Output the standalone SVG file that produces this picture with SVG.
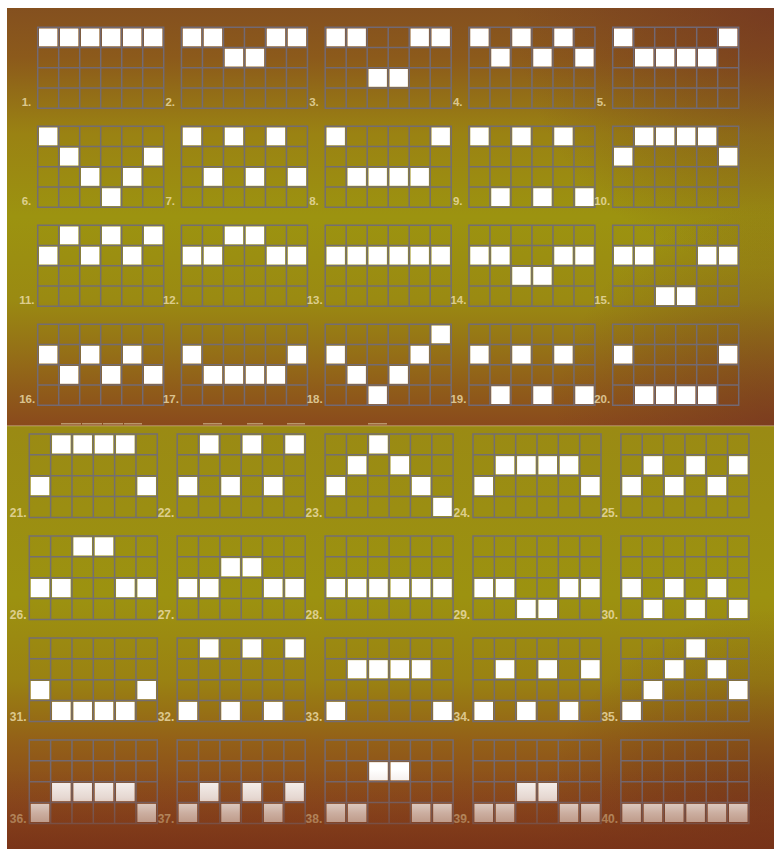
<svg xmlns="http://www.w3.org/2000/svg" xmlns:xlink="http://www.w3.org/1999/xlink" width="774" height="849" viewBox="0 0 774 849">
<defs>
<linearGradient id="bgT" x1="0" y1="8" x2="0" y2="425" gradientUnits="userSpaceOnUse">
<stop offset="0" stop-color="#84501f"/>
<stop offset="0.12" stop-color="#8c5a1b"/>
<stop offset="0.3" stop-color="#9a8213"/>
<stop offset="0.5" stop-color="#9c9310"/>
<stop offset="0.7" stop-color="#9a8a12"/>
<stop offset="0.86" stop-color="#936818"/>
<stop offset="1" stop-color="#8a4a1c"/>
</linearGradient>
<linearGradient id="bgB" x1="0" y1="426" x2="0" y2="849" gradientUnits="userSpaceOnUse">
<stop offset="0" stop-color="#9a8a14"/>
<stop offset="0.4" stop-color="#9c9210"/>
<stop offset="0.6" stop-color="#9a8212"/>
<stop offset="0.75" stop-color="#935f18"/>
<stop offset="0.9" stop-color="#88461c"/>
<stop offset="1" stop-color="#7a3418"/>
</linearGradient>
<radialGradient id="cornerTR" cx="774" cy="8" r="260" gradientUnits="userSpaceOnUse">
<stop offset="0" stop-color="#6e2e22" stop-opacity="0.6"/>
<stop offset="1" stop-color="#6e2e22" stop-opacity="0"/>
</radialGradient>
<radialGradient id="cornerBR" cx="774" cy="425" r="220" gradientUnits="userSpaceOnUse">
<stop offset="0" stop-color="#6e2e22" stop-opacity="0.5"/>
<stop offset="1" stop-color="#6e2e22" stop-opacity="0"/>
</radialGradient>
<radialGradient id="cornerBB" cx="774" cy="849" r="240" gradientUnits="userSpaceOnUse">
<stop offset="0" stop-color="#5e2218" stop-opacity="0.5"/>
<stop offset="1" stop-color="#5e2218" stop-opacity="0"/>
</radialGradient>
<linearGradient id="fade" x1="0" y1="770" x2="0" y2="849" gradientUnits="userSpaceOnUse">
<stop offset="0" stop-color="#823c1a" stop-opacity="0"/>
<stop offset="0.35" stop-color="#823c1a" stop-opacity="0.2"/>
<stop offset="0.55" stop-color="#823c1a" stop-opacity="0.42"/>
<stop offset="0.8" stop-color="#7e3819" stop-opacity="0.62"/>
<stop offset="1" stop-color="#7a3418" stop-opacity="0.8"/>
</linearGradient>
<path id="gT" d="M0 0H126V81H0Z M21 0V81 M42 0V81 M63 0V81 M84 0V81 M105 0V81 M0 20.25H126 M0 40.5H126 M0 60.75H126"/>
<path id="gB" d="M0 0H128V83.4H0Z M21.33 0V83.4 M42.67 0V83.4 M64 0V83.4 M85.33 0V83.4 M106.67 0V83.4 M0 20.85H128 M0 41.7H128 M0 62.55H128"/>
</defs>
<style>
.grid{fill:none;stroke:#706c7c;stroke-width:1.5;stroke-opacity:0.9}
.t rect{fill:#ffffff;width:18.4px;height:17.8px}
.b rect{fill:#ffffff;width:18.6px;height:18.2px}
.lbl{font-family:"Liberation Sans",Arial,sans-serif;font-weight:bold;fill:#efe0b0;fill-opacity:0.8}
.t .lbl{font-size:11.5px}
.b .lbl{font-size:12px}
</style>
<rect x="0" y="0" width="774" height="849" fill="#ffffff"/>
<rect x="7" y="8" width="767" height="418" fill="url(#bgT)"/>
<rect x="7" y="8" width="767" height="418" fill="url(#cornerTR)"/>
<rect x="7" y="8" width="767" height="418" fill="url(#cornerBR)"/>
<rect x="7" y="426" width="767" height="423" fill="url(#bgB)"/>
<rect x="7" y="426" width="767" height="423" fill="url(#cornerBB)"/>
<g id="seam" fill="#d8c8a0" fill-opacity="0.6">
<rect x="7" y="425.3" width="767" height="1"/>
<rect x="61" y="423" width="20" height="1.5"/><rect x="82" y="423" width="20" height="1.5"/><rect x="103" y="423" width="20" height="1.5"/><rect x="124" y="423" width="18" height="1.5"/>
<rect x="203" y="423" width="19" height="1.5"/><rect x="247" y="423" width="16" height="1.5"/><rect x="287" y="423" width="18" height="1.5"/><rect x="368" y="423" width="19" height="1.5"/>
</g>
<g id="paylines-top" class="t">
<g id="line-1" transform="translate(37.7,27.3)"><use href="#gT" class="grid"/><rect x="1.3" y="1.2"/><rect x="22.3" y="1.2"/><rect x="43.3" y="1.2"/><rect x="64.3" y="1.2"/><rect x="85.3" y="1.2"/><rect x="106.3" y="1.2"/><text class="lbl" x="-16" y="79">1.</text></g>
<g id="line-2" transform="translate(181.45,27.3)"><use href="#gT" class="grid"/><rect x="1.3" y="1.2"/><rect x="22.3" y="1.2"/><rect x="43.3" y="21.45"/><rect x="64.3" y="21.45"/><rect x="85.3" y="1.2"/><rect x="106.3" y="1.2"/><text class="lbl" x="-16" y="79">2.</text></g>
<g id="line-3" transform="translate(325.2,27.3)"><use href="#gT" class="grid"/><rect x="1.3" y="1.2"/><rect x="22.3" y="1.2"/><rect x="43.3" y="41.7"/><rect x="64.3" y="41.7"/><rect x="85.3" y="1.2"/><rect x="106.3" y="1.2"/><text class="lbl" x="-16" y="79">3.</text></g>
<g id="line-4" transform="translate(468.95,27.3)"><use href="#gT" class="grid"/><rect x="1.3" y="1.2"/><rect x="22.3" y="21.45"/><rect x="43.3" y="1.2"/><rect x="64.3" y="21.45"/><rect x="85.3" y="1.2"/><rect x="106.3" y="21.45"/><text class="lbl" x="-16" y="79">4.</text></g>
<g id="line-5" transform="translate(612.7,27.3)"><use href="#gT" class="grid"/><rect x="1.3" y="1.2"/><rect x="22.3" y="21.45"/><rect x="43.3" y="21.45"/><rect x="64.3" y="21.45"/><rect x="85.3" y="21.45"/><rect x="106.3" y="1.2"/><text class="lbl" x="-16" y="79">5.</text></g>
<g id="line-6" transform="translate(37.7,126.3)"><use href="#gT" class="grid"/><rect x="1.3" y="1.2"/><rect x="22.3" y="21.45"/><rect x="43.3" y="41.7"/><rect x="64.3" y="61.95"/><rect x="85.3" y="41.7"/><rect x="106.3" y="21.45"/><text class="lbl" x="-16" y="79">6.</text></g>
<g id="line-7" transform="translate(181.45,126.3)"><use href="#gT" class="grid"/><rect x="1.3" y="1.2"/><rect x="22.3" y="41.7"/><rect x="43.3" y="1.2"/><rect x="64.3" y="41.7"/><rect x="85.3" y="1.2"/><rect x="106.3" y="41.7"/><text class="lbl" x="-16" y="79">7.</text></g>
<g id="line-8" transform="translate(325.2,126.3)"><use href="#gT" class="grid"/><rect x="1.3" y="1.2"/><rect x="22.3" y="41.7"/><rect x="43.3" y="41.7"/><rect x="64.3" y="41.7"/><rect x="85.3" y="41.7"/><rect x="106.3" y="1.2"/><text class="lbl" x="-16" y="79">8.</text></g>
<g id="line-9" transform="translate(468.95,126.3)"><use href="#gT" class="grid"/><rect x="1.3" y="1.2"/><rect x="22.3" y="61.95"/><rect x="43.3" y="1.2"/><rect x="64.3" y="61.95"/><rect x="85.3" y="1.2"/><rect x="106.3" y="61.95"/><text class="lbl" x="-16" y="79">9.</text></g>
<g id="line-10" transform="translate(612.7,126.3)"><use href="#gT" class="grid"/><rect x="1.3" y="21.45"/><rect x="22.3" y="1.2"/><rect x="43.3" y="1.2"/><rect x="64.3" y="1.2"/><rect x="85.3" y="1.2"/><rect x="106.3" y="21.45"/><text class="lbl" x="-18.5" y="79">10.</text></g>
<g id="line-11" transform="translate(37.7,225.3)"><use href="#gT" class="grid"/><rect x="1.3" y="21.45"/><rect x="22.3" y="1.2"/><rect x="43.3" y="21.45"/><rect x="64.3" y="1.2"/><rect x="85.3" y="21.45"/><rect x="106.3" y="1.2"/><text class="lbl" x="-18.5" y="79">11.</text></g>
<g id="line-12" transform="translate(181.45,225.3)"><use href="#gT" class="grid"/><rect x="1.3" y="21.45"/><rect x="22.3" y="21.45"/><rect x="43.3" y="1.2"/><rect x="64.3" y="1.2"/><rect x="85.3" y="21.45"/><rect x="106.3" y="21.45"/><text class="lbl" x="-18.5" y="79">12.</text></g>
<g id="line-13" transform="translate(325.2,225.3)"><use href="#gT" class="grid"/><rect x="1.3" y="21.45"/><rect x="22.3" y="21.45"/><rect x="43.3" y="21.45"/><rect x="64.3" y="21.45"/><rect x="85.3" y="21.45"/><rect x="106.3" y="21.45"/><text class="lbl" x="-18.5" y="79">13.</text></g>
<g id="line-14" transform="translate(468.95,225.3)"><use href="#gT" class="grid"/><rect x="1.3" y="21.45"/><rect x="22.3" y="21.45"/><rect x="43.3" y="41.7"/><rect x="64.3" y="41.7"/><rect x="85.3" y="21.45"/><rect x="106.3" y="21.45"/><text class="lbl" x="-18.5" y="79">14.</text></g>
<g id="line-15" transform="translate(612.7,225.3)"><use href="#gT" class="grid"/><rect x="1.3" y="21.45"/><rect x="22.3" y="21.45"/><rect x="43.3" y="61.95"/><rect x="64.3" y="61.95"/><rect x="85.3" y="21.45"/><rect x="106.3" y="21.45"/><text class="lbl" x="-18.5" y="79">15.</text></g>
<g id="line-16" transform="translate(37.7,324.3)"><use href="#gT" class="grid"/><rect x="1.3" y="21.45"/><rect x="22.3" y="41.7"/><rect x="43.3" y="21.45"/><rect x="64.3" y="41.7"/><rect x="85.3" y="21.45"/><rect x="106.3" y="41.7"/><text class="lbl" x="-18.5" y="79">16.</text></g>
<g id="line-17" transform="translate(181.45,324.3)"><use href="#gT" class="grid"/><rect x="1.3" y="21.45"/><rect x="22.3" y="41.7"/><rect x="43.3" y="41.7"/><rect x="64.3" y="41.7"/><rect x="85.3" y="41.7"/><rect x="106.3" y="21.45"/><text class="lbl" x="-18.5" y="79">17.</text></g>
<g id="line-18" transform="translate(325.2,324.3)"><use href="#gT" class="grid"/><rect x="1.3" y="21.45"/><rect x="22.3" y="41.7"/><rect x="43.3" y="61.95"/><rect x="64.3" y="41.7"/><rect x="85.3" y="21.45"/><rect x="106.3" y="1.2"/><text class="lbl" x="-18.5" y="79">18.</text></g>
<g id="line-19" transform="translate(468.95,324.3)"><use href="#gT" class="grid"/><rect x="1.3" y="21.45"/><rect x="22.3" y="61.95"/><rect x="43.3" y="21.45"/><rect x="64.3" y="61.95"/><rect x="85.3" y="21.45"/><rect x="106.3" y="61.95"/><text class="lbl" x="-18.5" y="79">19.</text></g>
<g id="line-20" transform="translate(612.7,324.3)"><use href="#gT" class="grid"/><rect x="1.3" y="21.45"/><rect x="22.3" y="61.95"/><rect x="43.3" y="61.95"/><rect x="64.3" y="61.95"/><rect x="85.3" y="61.95"/><rect x="106.3" y="21.45"/><text class="lbl" x="-18.5" y="79">20.</text></g>
</g>
<g id="paylines-bottom" class="b">
<g id="line-21" transform="translate(29.3,434)"><use href="#gB" class="grid"/><rect x="1.4" y="43"/><rect x="22.73" y="1.3"/><rect x="44.07" y="1.3"/><rect x="65.4" y="1.3"/><rect x="86.73" y="1.3"/><rect x="108.07" y="43"/><text class="lbl" x="-19.5" y="82.5">21.</text></g>
<g id="line-22" transform="translate(177.2,434)"><use href="#gB" class="grid"/><rect x="1.4" y="43"/><rect x="22.73" y="1.3"/><rect x="44.07" y="43"/><rect x="65.4" y="1.3"/><rect x="86.73" y="43"/><rect x="108.07" y="1.3"/><text class="lbl" x="-19.5" y="82.5">22.</text></g>
<g id="line-23" transform="translate(325.1,434)"><use href="#gB" class="grid"/><rect x="1.4" y="43"/><rect x="22.73" y="22.15"/><rect x="44.07" y="1.3"/><rect x="65.4" y="22.15"/><rect x="86.73" y="43"/><rect x="108.07" y="63.85"/><text class="lbl" x="-19.5" y="82.5">23.</text></g>
<g id="line-24" transform="translate(473,434)"><use href="#gB" class="grid"/><rect x="1.4" y="43"/><rect x="22.73" y="22.15"/><rect x="44.07" y="22.15"/><rect x="65.4" y="22.15"/><rect x="86.73" y="22.15"/><rect x="108.07" y="43"/><text class="lbl" x="-19.5" y="82.5">24.</text></g>
<g id="line-25" transform="translate(620.9,434)"><use href="#gB" class="grid"/><rect x="1.4" y="43"/><rect x="22.73" y="22.15"/><rect x="44.07" y="43"/><rect x="65.4" y="22.15"/><rect x="86.73" y="43"/><rect x="108.07" y="22.15"/><text class="lbl" x="-19.5" y="82.5">25.</text></g>
<g id="line-26" transform="translate(29.3,536)"><use href="#gB" class="grid"/><rect x="1.4" y="43"/><rect x="22.73" y="43"/><rect x="44.07" y="1.3"/><rect x="65.4" y="1.3"/><rect x="86.73" y="43"/><rect x="108.07" y="43"/><text class="lbl" x="-19.5" y="82.5">26.</text></g>
<g id="line-27" transform="translate(177.2,536)"><use href="#gB" class="grid"/><rect x="1.4" y="43"/><rect x="22.73" y="43"/><rect x="44.07" y="22.15"/><rect x="65.4" y="22.15"/><rect x="86.73" y="43"/><rect x="108.07" y="43"/><text class="lbl" x="-19.5" y="82.5">27.</text></g>
<g id="line-28" transform="translate(325.1,536)"><use href="#gB" class="grid"/><rect x="1.4" y="43"/><rect x="22.73" y="43"/><rect x="44.07" y="43"/><rect x="65.4" y="43"/><rect x="86.73" y="43"/><rect x="108.07" y="43"/><text class="lbl" x="-19.5" y="82.5">28.</text></g>
<g id="line-29" transform="translate(473,536)"><use href="#gB" class="grid"/><rect x="1.4" y="43"/><rect x="22.73" y="43"/><rect x="44.07" y="63.85"/><rect x="65.4" y="63.85"/><rect x="86.73" y="43"/><rect x="108.07" y="43"/><text class="lbl" x="-19.5" y="82.5">29.</text></g>
<g id="line-30" transform="translate(620.9,536)"><use href="#gB" class="grid"/><rect x="1.4" y="43"/><rect x="22.73" y="63.85"/><rect x="44.07" y="43"/><rect x="65.4" y="63.85"/><rect x="86.73" y="43"/><rect x="108.07" y="63.85"/><text class="lbl" x="-19.5" y="82.5">30.</text></g>
<g id="line-31" transform="translate(29.3,638)"><use href="#gB" class="grid"/><rect x="1.4" y="43"/><rect x="22.73" y="63.85"/><rect x="44.07" y="63.85"/><rect x="65.4" y="63.85"/><rect x="86.73" y="63.85"/><rect x="108.07" y="43"/><text class="lbl" x="-19.5" y="82.5">31.</text></g>
<g id="line-32" transform="translate(177.2,638)"><use href="#gB" class="grid"/><rect x="1.4" y="63.85"/><rect x="22.73" y="1.3"/><rect x="44.07" y="63.85"/><rect x="65.4" y="1.3"/><rect x="86.73" y="63.85"/><rect x="108.07" y="1.3"/><text class="lbl" x="-19.5" y="82.5">32.</text></g>
<g id="line-33" transform="translate(325.1,638)"><use href="#gB" class="grid"/><rect x="1.4" y="63.85"/><rect x="22.73" y="22.15"/><rect x="44.07" y="22.15"/><rect x="65.4" y="22.15"/><rect x="86.73" y="22.15"/><rect x="108.07" y="63.85"/><text class="lbl" x="-19.5" y="82.5">33.</text></g>
<g id="line-34" transform="translate(473,638)"><use href="#gB" class="grid"/><rect x="1.4" y="63.85"/><rect x="22.73" y="22.15"/><rect x="44.07" y="63.85"/><rect x="65.4" y="22.15"/><rect x="86.73" y="63.85"/><rect x="108.07" y="22.15"/><text class="lbl" x="-19.5" y="82.5">34.</text></g>
<g id="line-35" transform="translate(620.9,638)"><use href="#gB" class="grid"/><rect x="1.4" y="63.85"/><rect x="22.73" y="43"/><rect x="44.07" y="22.15"/><rect x="65.4" y="1.3"/><rect x="86.73" y="22.15"/><rect x="108.07" y="43"/><text class="lbl" x="-19.5" y="82.5">35.</text></g>
<g id="line-36" transform="translate(29.3,740)"><use href="#gB" class="grid"/><rect x="1.4" y="63.85"/><rect x="22.73" y="43"/><rect x="44.07" y="43"/><rect x="65.4" y="43"/><rect x="86.73" y="43"/><rect x="108.07" y="63.85"/><text class="lbl" x="-19.5" y="82.5">36.</text></g>
<g id="line-37" transform="translate(177.2,740)"><use href="#gB" class="grid"/><rect x="1.4" y="63.85"/><rect x="22.73" y="43"/><rect x="44.07" y="63.85"/><rect x="65.4" y="43"/><rect x="86.73" y="63.85"/><rect x="108.07" y="43"/><text class="lbl" x="-19.5" y="82.5">37.</text></g>
<g id="line-38" transform="translate(325.1,740)"><use href="#gB" class="grid"/><rect x="1.4" y="63.85"/><rect x="22.73" y="63.85"/><rect x="44.07" y="22.15"/><rect x="65.4" y="22.15"/><rect x="86.73" y="63.85"/><rect x="108.07" y="63.85"/><text class="lbl" x="-19.5" y="82.5">38.</text></g>
<g id="line-39" transform="translate(473,740)"><use href="#gB" class="grid"/><rect x="1.4" y="63.85"/><rect x="22.73" y="63.85"/><rect x="44.07" y="43"/><rect x="65.4" y="43"/><rect x="86.73" y="63.85"/><rect x="108.07" y="63.85"/><text class="lbl" x="-19.5" y="82.5">39.</text></g>
<g id="line-40" transform="translate(620.9,740)"><use href="#gB" class="grid"/><rect x="1.4" y="63.85"/><rect x="22.73" y="63.85"/><rect x="44.07" y="63.85"/><rect x="65.4" y="63.85"/><rect x="86.73" y="63.85"/><rect x="108.07" y="63.85"/><text class="lbl" x="-19.5" y="82.5">40.</text></g>
</g>
<rect id="bottom-fade" x="7" y="770" width="767" height="79" fill="url(#fade)"/>
</svg>
